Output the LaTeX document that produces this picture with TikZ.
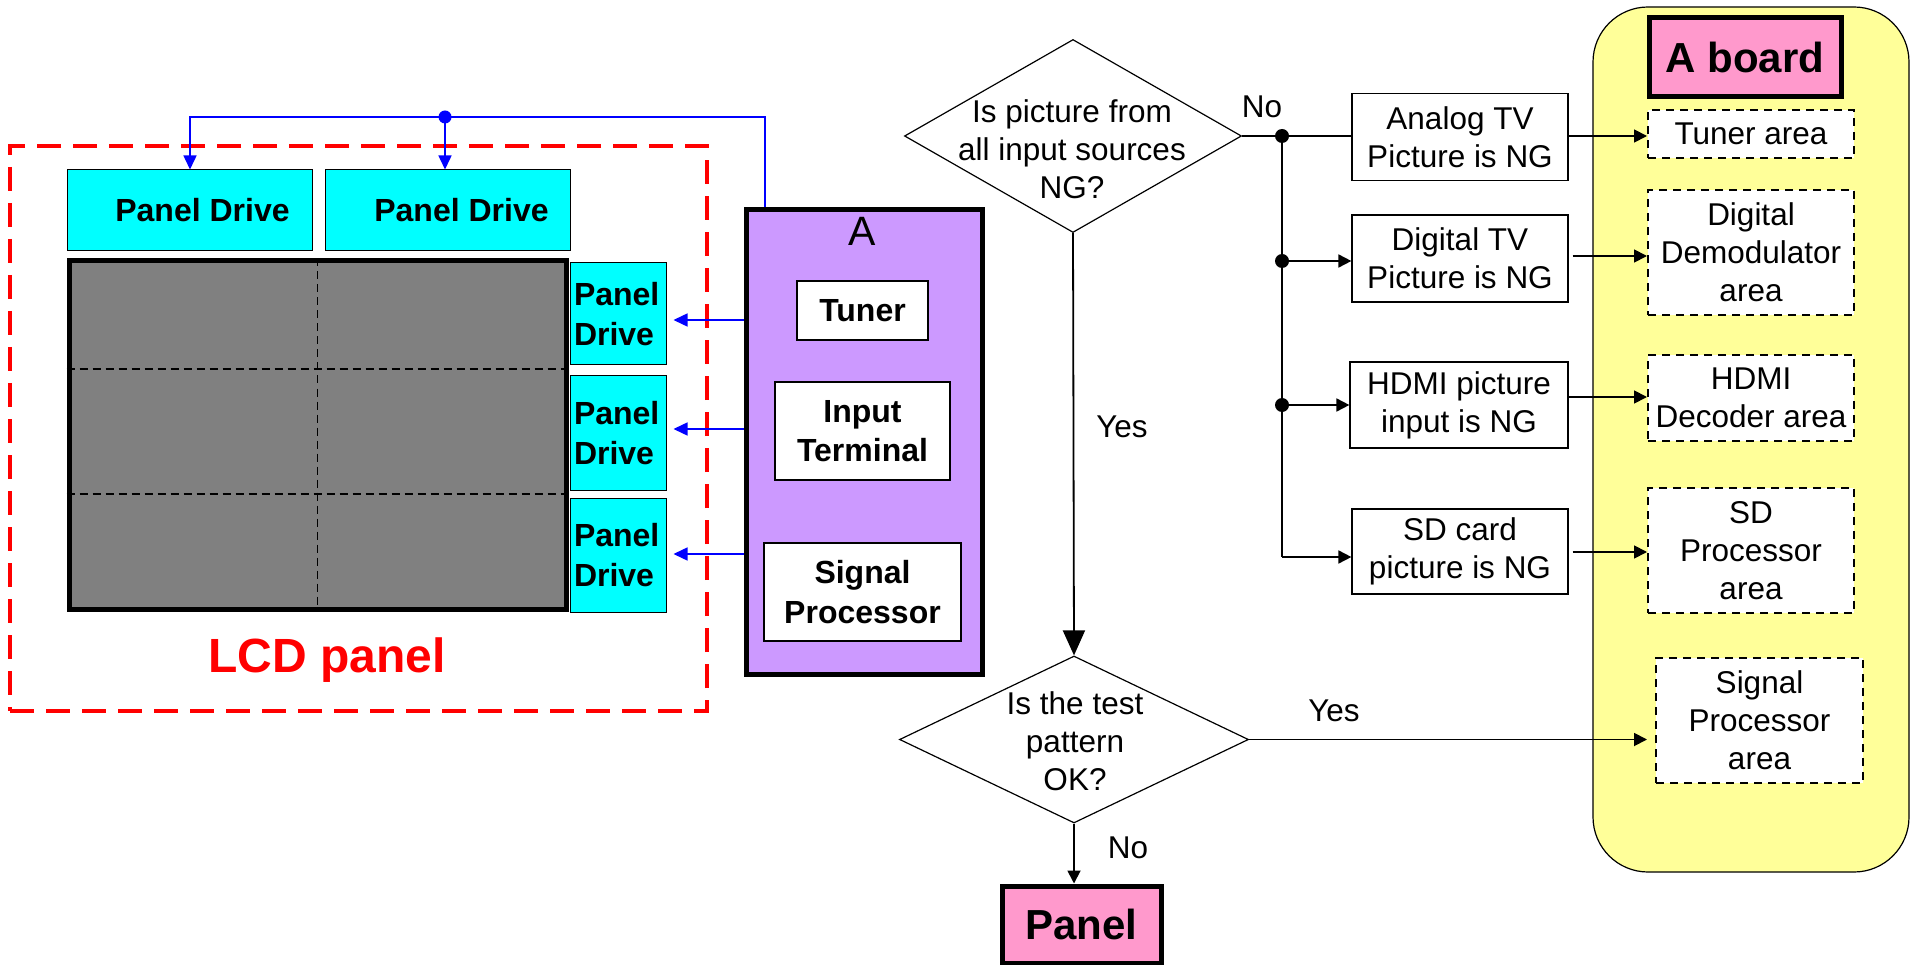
\documentclass[tikz,border=0pt]{standalone}
\usepackage{fontspec}
\setmainfont{Liberation Sans}
\usetikzlibrary{shapes.geometric,arrows.meta,calc}
\definecolor{cyanb}{HTML}{00FFFF}
\definecolor{purpb}{HTML}{CC99FF}
\definecolor{grayp}{HTML}{808080}
\definecolor{pinkb}{HTML}{FF99CC}
\definecolor{yellb}{HTML}{FFFF99}
\begin{document}
\begin{tikzpicture}[x=1pt,y=-1pt,
  reg/.style={font=\fontsize{31.5}{38}\selectfont},
  bld/.style={font=\fontsize{32}{39.5}\selectfont\bfseries},
  box/.style={draw=black, line width=1.2pt, fill=white, inner sep=0pt, align=center, reg},
  wbox/.style={draw=black, line width=1.2pt, fill=white, inner sep=0pt, align=center, bld},
  pdbox/.style={draw=black, line width=1pt, fill=cyanb, inner sep=0pt, bld},
  sidepd/.style={draw=black, line width=1pt, fill=cyanb, inner ysep=0pt, inner xsep=4pt, text width=88pt, align=left, bld},
  dbox/.style={draw=black, line width=2pt, dash pattern=on 8pt off 6pt, fill=white, inner sep=0pt, align=center, reg},
  pinkbox/.style={draw=black, line width=5pt, fill=pinkb, inner sep=0pt, font=\fontsize{42}{42}\selectfont\bfseries},
  barr/.style={draw=black, line width=1.8pt, -{Triangle[length=13pt,width=13pt]}},
  bluearr/.style={draw=blue, line width=1.5pt, -{Triangle[length=14pt,width=13pt]}},
  dia/.style={draw=black, line width=1.2pt, shape=diamond, inner sep=0pt, fill=white},
  dot/.style={circle, fill=black, inner sep=0pt, minimum size=14pt},
  lbl/.style={reg, inner sep=0pt},
]
\useasboundingbox (0,0) rectangle (1911,965);

% ---------------- left: LCD panel ----------------
\node[draw=red, line width=4pt, dash pattern=on 24pt off 12pt, minimum width=697, minimum height=565, inner sep=0pt] (lcd) at (358.5,428.5) {};
\node[text=red, font=\fontsize{48}{48}\selectfont\bfseries, anchor=base, inner sep=0pt] (lcdlbl) at (327,672) {LCD panel};

\node[pdbox, minimum width=245, minimum height=81] (pd1) at (189.5,210.5) {\hspace*{26pt}Panel Drive};
\node[pdbox, minimum width=245, minimum height=81] (pd2) at (447.5,210.5) {\hspace*{28pt}Panel Drive};

\node[draw=black, line width=5pt, fill=grayp, minimum width=497, minimum height=348, inner sep=0pt] (gp) at (317.5,435) {};
\draw[line width=1.8pt, dash pattern=on 8pt off 5pt] (gp.north) -- (gp.south);
\draw[line width=1.8pt, dash pattern=on 8pt off 5pt] (gp.west |- 0,369) -- (gp.east |- 0,369);
\draw[line width=1.8pt, dash pattern=on 8pt off 5pt] (gp.west |- 0,494) -- (gp.east |- 0,494);

\node[sidepd, minimum height=102] (pr1) at (618,314) {Panel\\Drive};
\node[sidepd, minimum height=114] (pr2) at (618,433) {Panel\\Drive};
\node[sidepd, minimum height=114] (pr3) at (618,555) {Panel\\Drive};

% ---------------- A box ----------------
\node[draw=black, line width=5pt, fill=purpb, minimum width=236, minimum height=464, inner sep=0pt] (abox) at (864,442) {};
\node[font=\fontsize{41}{41}\selectfont, inner sep=0pt] (alabel) at (862,231) {A};
\node[wbox, minimum width=131, minimum height=59] (tuner) at (862.5,310.5) {Tuner};
\node[wbox, minimum width=175, minimum height=98] (inpt) at (862.5,431) {Input\\Terminal};
\node[wbox, minimum width=197, minimum height=98] (sigp) at (862.5,592) {Signal\\Processor};

% blue connections
\coordinate (bt) at (765,117);
\node[circle, fill=blue, inner sep=0pt, minimum size=13pt] (bdot) at (445,117) {};
\draw[draw=blue, line width=1.5pt] (abox.north -| bt) -- (bt) -- (bdot.center);
\draw[bluearr] (bdot.center) -- (190,117) -- (pd1.north -| 190,0);
\draw[bluearr] (bdot.center) -- (pd2.north -| bdot);
\draw[bluearr, shorten >=7pt] (abox.west |- 0,320) -- (pr1.east |- 0,320);
\draw[bluearr, shorten >=7pt] (abox.west |- 0,429) -- (pr2.east |- 0,429);
\draw[bluearr, shorten >=7pt] (abox.west |- 0,554) -- (pr3.east |- 0,554);

% ---------------- A board ----------------
\node[draw=black, line width=1.2pt, fill=yellb, rounded corners=55pt, minimum width=316, minimum height=865, inner sep=0pt] (aboard) at (1751,439.5) {};
\node[pinkbox, minimum width=192, minimum height=79] (ablbl) at (1745,57.5) {A board};

\node[dbox, minimum width=206, minimum height=48] (tua) at (1751,134) {Tuner area};
\node[dbox, minimum width=206, minimum height=125] (dda) at (1751,252.5) {Digital\\Demodulator\\area};
\node[dbox, minimum width=206, minimum height=86] (hda) at (1751,398) {HDMI\\Decoder area};
\node[dbox, minimum width=206, minimum height=125] (spa) at (1751,550.5) {SD\\Processor\\area};
\node[dbox, minimum width=207, minimum height=125] (sga) at (1759.5,720.5) {Signal\\Processor\\area};

% ---------------- flowchart ----------------
\node[dia, minimum width=337, minimum height=193] (d1) at (1073,136) {};
\node[lbl, align=center] (d1t) at (1072,149) {Is picture from\\all input sources\\NG?};
\node[dia, minimum width=349, minimum height=167] (d2) at (1074,739.5) {};
\node[lbl, align=center] (d2t) at (1075,741) {Is the test\\pattern\\OK?};
\node[pinkbox, minimum width=159, minimum height=77] (panel) at (1081.5,924.5) {Panel};

\node[box, minimum width=216, minimum height=87] (ana) at (1460,137) {Analog TV\\Picture is NG};
\node[box, minimum width=216, minimum height=87] (dig) at (1460,258.5) {Digital TV\\Picture is NG};
\node[box, minimum width=218, minimum height=86] (hdmi) at (1459,405) {HDMI picture\\input is NG};
\node[box, minimum width=216, minimum height=85] (sdc) at (1460,551.5) {SD card\\picture is NG};

\node[dot] (j1) at (1282,136) {};
\node[dot] (j2) at (1282,261) {};
\node[dot] (j3) at (1282,405) {};
\coordinate (j4) at (1282,557);

\draw[line width=1.8pt] (d1.east) -- (j1.center) -- (ana.west |- j1);
\draw[line width=1.8pt] (j1.center) -- (j4);
\draw[barr] (j2.center) -- (dig.west |- j2);
\draw[barr] (j3.center) -- (hdmi.west |- j3);
\draw[barr] (j4) -- (sdc.west |- j4);

\draw[barr] (ana.east |- j1) -- (tua.west |- j1);
\draw[barr, shorten <=4pt] (dig.east |- 0,256) -- (dda.west |- 0,256);
\draw[barr] (hdmi.east |- 0,397) -- (hda.west |- 0,397);
\draw[barr, shorten <=4pt] (sdc.east |- 0,552) -- (spa.west |- 0,552);

\draw[line width=1.8pt, -{Triangle[length=25pt,width=22pt]}] (d1.south) -- (d2.north);
\draw[barr, shorten >=8pt] (d2.east) -- (sga.west |- d2.east);
\draw[barr] (d2.south) -- (panel.north -| d2.south);

\node[lbl] (yes1) at (1122,427) {Yes};
\node[lbl] (no1) at (1262,107) {No};
\node[lbl] (yes2) at (1334,711) {Yes};
\node[lbl] (no2) at (1128,848) {No};
\end{tikzpicture}
\end{document}
